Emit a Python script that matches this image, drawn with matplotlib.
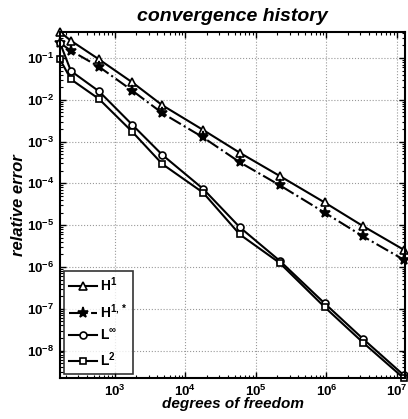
import matplotlib
matplotlib.use("Agg")
import matplotlib.pyplot as plt
from matplotlib.ticker import LogLocator, NullFormatter, FixedLocator

plt.rcParams['font.family'] = ['Liberation Sans', 'DejaVu Sans']
plt.rcParams['font.weight'] = 'bold'
plt.rcParams['mathtext.fontset'] = 'custom'
plt.rcParams['mathtext.rm'] = 'Liberation Sans:bold'
plt.rcParams['mathtext.bf'] = 'Liberation Sans:bold'
plt.rcParams['mathtext.it'] = 'Liberation Sans:bold:italic'
plt.rcParams['mathtext.default'] = 'bf'

dofs = [166, 237, 593, 1770, 4700, 17800, 59000, 218000, 940000, 3.3e6, 1.24e7]
err_H1 = [0.42, 0.26, 0.093, 0.026, 0.0074, 0.0019, 5.4e-4, 1.5e-4, 3.5e-5, 9.5e-6, 2.6e-6]
err_H1s = [0.23, 0.15, 0.062, 0.0165, 0.0048, 0.00126, 3.2e-4, 9e-5, 2e-5, 5.4e-6, 1.5e-6]
err_Linf = [0.23, 0.049, 0.016, 0.0025, 4.8e-4, 7.4e-5, 8.9e-6, 1.4e-6, 1.35e-7, 1.9e-8, 2.6e-9]
err_L2 = [0.093, 0.031, 0.0105, 0.0017, 2.9e-4, 6e-5, 6e-6, 1.24e-6, 1.1e-7, 1.55e-8, 2.2e-9]

xticks = [1e3, 1e4, 1e5, 1e6, 1e7]
yticks = [1e-8, 1e-7, 1e-6, 1e-5, 1e-4, 1e-3, 1e-2, 1e-1]
labels = [r'H$^1$', r'H$^{1,*}$', r'L$^\infty$', r'L$^2$']

fig = plt.figure(figsize=(4.08, 4.19), dpi=100)
ax = fig.add_axes([60/408, 41/419, 345/408, 346/419])

kw = dict(color='black', linewidth=1.5, markersize=5, clip_on=False, markeredgewidth=1.2)
ax.loglog(dofs, err_H1, '-', marker='^', markerfacecolor='white', label=labels[0],
          **{**kw, 'markersize': 6})
ax.loglog(dofs, err_H1s, '-.', marker='*', markerfacecolor='black', label=labels[1],
          **{**kw, 'markersize': 8})
ax.loglog(dofs, err_Linf, '-', marker='o', markerfacecolor='white', label=labels[2], **kw)
ax.loglog(dofs, err_L2, '-', marker='s', markerfacecolor='white', label=labels[3],
          **{**kw, 'markersize': 4.5})

ax.set_xlim(166, 1.3e7)
ax.set_ylim(2.2e-9, 0.42)

ax.xaxis.set_major_locator(FixedLocator(xticks))
ax.yaxis.set_major_locator(FixedLocator(yticks))
ax.xaxis.set_minor_locator(LogLocator(base=10, subs=range(2, 10), numticks=20))
ax.yaxis.set_minor_locator(LogLocator(base=10, subs=range(2, 10), numticks=20))
ax.xaxis.set_minor_formatter(NullFormatter())
ax.yaxis.set_minor_formatter(NullFormatter())

ax.tick_params(which='both', direction='in', top=True, right=True, labelsize=9.5)
ax.tick_params(which='major', length=4, width=1, pad=4)
ax.tick_params(which='minor', length=2, width=0.8)
for lab in ax.get_xticklabels() + ax.get_yticklabels():
    lab.set_fontweight('bold')

ax.grid(True, which='major', linestyle=':', color='#999999', linewidth=0.8)
for s in ax.spines.values():
    s.set_linewidth(1.5)

ax.set_title('convergence history', fontsize=14, fontweight='bold', fontstyle='italic', pad=8)
ax.set_xlabel('degrees of freedom', fontsize=11, fontweight='bold', fontstyle='italic', labelpad=-1)
ax.set_ylabel('relative error', fontsize=12, fontweight='bold', fontstyle='italic', labelpad=1)

leg = ax.legend(loc='lower left', fontsize=10, frameon=True, fancybox=False,
                edgecolor='black', borderaxespad=0.3, handlelength=2.0,
                handletextpad=0.25, labelspacing=0.55, borderpad=0.35)
leg.get_frame().set_linewidth(1.2)
for t in leg.get_texts():
    t.set_fontweight('bold')

fig.savefig('out.png', dpi=100)
